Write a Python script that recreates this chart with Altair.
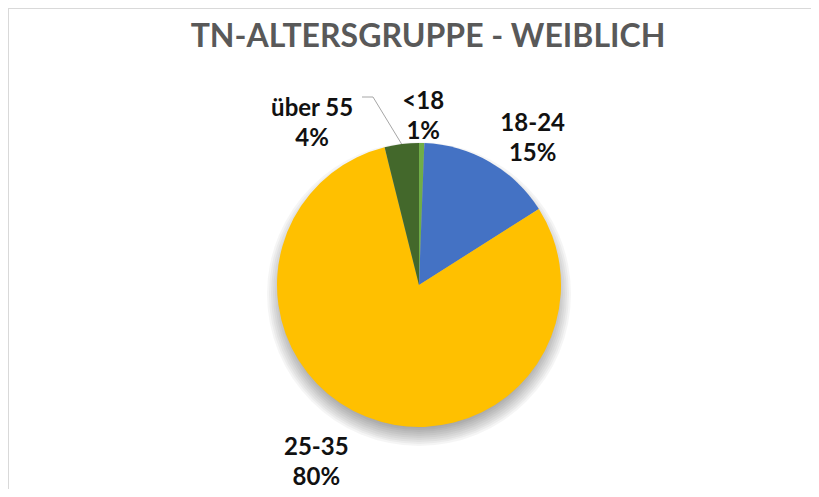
import math
import altair as alt
import pandas as pd

# ---- data -------------------------------------------------------------
categories = ["<18", "18-24", "25-35", "über 55"]
values = [0.6, 15.4, 80.1, 3.9]          # percent of participants
colors = ["#70AD47", "#4472C4", "#FFC000", "#43682B"]
title_text = "TN-ALTERSGRUPPE - WEIBLICH"

# ---- layout / style (kept out of the data) -----------------------------
W, H = 803, 481            # whole drawing area (page is 819 wide, 8px margin)
CX, CY = 411, 277          # pie centre inside the drawing
R = 142                    # pie radius
FONT = "Lato"
LINE_H = 30
label_pos = {              # radius of label + pixel nudge
    "<18":     dict(r=169, dx=1, dy=1),
    "18-24":   dict(r=184, dx=22, dy=14),
    "25-35":   dict(r=204, dx=-27, dy=-11),
    "über 55": dict(r=195, dx=-83, dy=33),
}

total = sum(values)
df = pd.DataFrame({
    "cat": categories,
    "value": values,
    "order": list(range(len(categories))),
    "label": [f"{c}\n{round(v):.0f}%" for c, v in zip(categories, values)],
})
one = pd.DataFrame({"k": [0]})

theta_scale = alt.Scale(domain=[0, total], range=[0, 2 * math.pi])
color_scale = alt.Scale(domain=categories, range=colors)

# chart frame (left and top edges are the visible ones)
frame = [
    alt.Chart(one).mark_rule(color="#D9D9D9", strokeWidth=1).encode(
        x=alt.value(0.5), y=alt.value(0), y2=alt.value(H)),
    alt.Chart(one).mark_rule(color="#D9D9D9", strokeWidth=1).encode(
        x=alt.value(0), x2=alt.value(W), y=alt.value(0.5)),
]

title = alt.Chart(one).mark_text(
    text=title_text, font=FONT, fontSize=32, fontWeight="bold",
    color="#595959", align="center", baseline="alphabetic",
).encode(x=alt.value(420), y=alt.value(39))

# soft drop shadow under the pie
shadows = [
    alt.Chart(one).mark_arc(
        theta=0, theta2=2 * math.pi, radius=r, color="#000000", opacity=0.04
    ).encode(x=alt.value(CX), y=alt.value(CY + 9))
    for r in range(134, 154, 2)
]

pie = alt.Chart(df).mark_arc(radius=R).encode(
    x=alt.value(CX), y=alt.value(CY),
    theta=alt.Theta("value:Q", stack=True, scale=theta_scale),
    color=alt.Color("cat:N", scale=color_scale, legend=None),
    order=alt.Order("order:Q"),
)

base_lab = (
    alt.Chart(df)
    .transform_window(cum="sum(value)", sort=[alt.SortField("order")],
                      frame=[None, 0])
    .transform_calculate(mid="datum.cum - datum.value / 2")
)

labels = []
for cat in categories:
    p = label_pos[cat]
    labels.append(
        base_lab.transform_filter(alt.datum.cat == cat)
        .mark_text(radius=p["r"], dx=p["dx"], dy=p["dy"] - LINE_H / 2,
                   font=FONT, fontSize=24, fontWeight="bold",
                   color="#111111", lineBreak="\n", lineHeight=LINE_H,
                   align="center", baseline="middle")
        .encode(x=alt.value(CX), y=alt.value(CY),
                theta=alt.Theta("mid:Q", stack=None, scale=theta_scale),
                text="label:N")
    )

# leader line for "über 55" (from slice edge at its mid angle to the label)
cum_before = sum(values[:3])
ang = 2 * math.pi * (cum_before + values[3] / 2) / total
ex, ey = CX + R * math.sin(ang), CY - R * math.cos(ang)
kx, ky = CX - 46, CY - 188
sx = CX - 57
leader = [
    alt.Chart(one).mark_rule(color="#A6A6A6", strokeWidth=1).encode(
        x=alt.value(ex), y=alt.value(ey), x2=alt.value(kx), y2=alt.value(ky)),
    alt.Chart(one).mark_rule(color="#A6A6A6", strokeWidth=1).encode(
        x=alt.value(kx), y=alt.value(ky), x2=alt.value(sx), y2=alt.value(ky)),
]

chart = (
    alt.layer(*frame, title, *shadows, pie, *leader, *labels)
    .properties(
        width=W, height=H, autosize="none",
        padding={"left": 0, "top": 0, "right": 0, "bottom": 0},
    )
    .configure_view(stroke=None)
    .configure(background="white")
)

chart.save("out.html", embed_options={"renderer": "svg", "actions": False})
